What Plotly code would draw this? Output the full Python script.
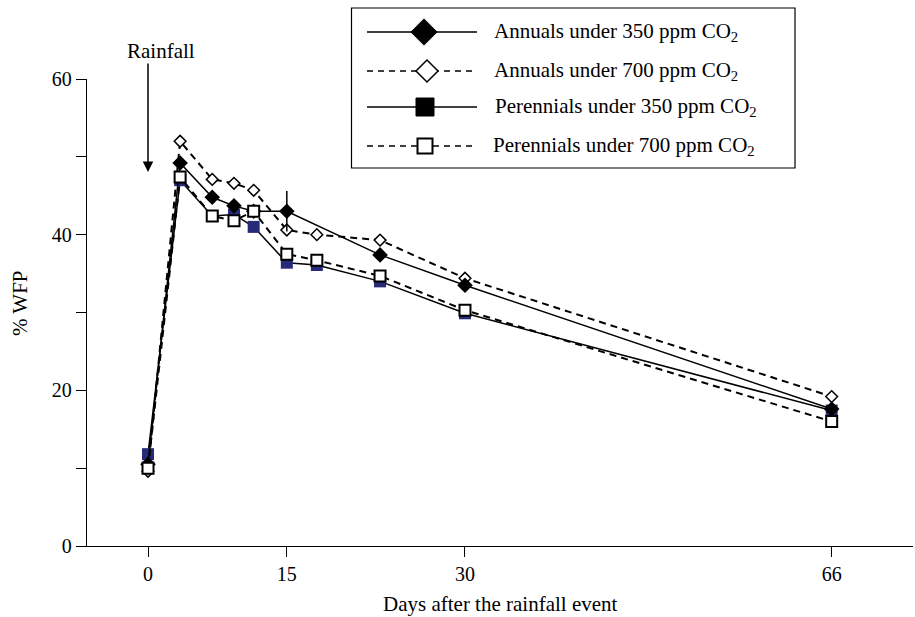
import plotly.graph_objects as go

# ---------------- data ----------------
# sampling positions along the x axis (days after the rainfall event, as drawn)
days = [0, 3.1, 6.2, 8.3, 10.2, 13.4, 16.3, 22.4, 30.6, 66]
annuals_350 = [10.5, 49.2, 44.8, 43.7, 43.0, 43.0, None, 37.4, 33.5, 17.6]
annuals_350_err = [0, 0, 0, 0, 0, 2.6, 0, 0, 0, 0]
annuals_700 = [9.6, 52.0, 47.1, 46.6, 45.7, 40.6, 40.0, 39.3, 34.4, 19.2]
perennials_350 = [11.8, 47.0, 42.4, 42.6, 41.0, 36.4, 36.1, 34.0, 29.9, 17.4]
perennials_700 = [10.0, 47.4, 42.4, 41.8, 43.0, 37.5, 36.7, 34.7, 30.3, 16.0]

x_tick_positions = [days[0], days[5], days[8], days[9]]
x_tick_labels = ["0", "15", "30", "66"]
y_tick_values = [0, 20, 40, 60]
y_tick_labels = ["0", "20", "40", "60"]
y_minor_ticks = [10, 30, 50]

series_names = [
    "Annuals under 350 ppm CO<sub>2</sub>",
    "Annuals under 700 ppm CO<sub>2</sub>",
    "Perennials under 350 ppm CO<sub>2</sub>",
    "Perennials under 700 ppm CO<sub>2</sub>",
]

FONT = "Liberation Serif, Times New Roman, serif"
NAVY = "#262a78"
W, H = 915, 617
L, R, T, B = 87, 2, 79, 71
PW, PH = W - L - R, H - T - B


def px(x):
    return (x - L) / PW


def py(y):
    return (H - B - y) / PH


fig = go.Figure()

fig.add_trace(go.Scatter(
    x=days, y=annuals_700, mode="lines+markers", name=series_names[1],
    line=dict(color="black", width=2, dash="7px,5px"),
    marker=dict(symbol="diamond", size=9, color="white",
                line=dict(color="black", width=1.5)),
    connectgaps=True, showlegend=False))

fig.add_trace(go.Scatter(
    x=days, y=perennials_350, mode="lines+markers", name=series_names[2],
    line=dict(color="black", width=1.5),
    marker=dict(symbol="square", size=12, color=NAVY, line=dict(width=0)),
    showlegend=False))

fig.add_trace(go.Scatter(
    x=days, y=annuals_350, mode="lines+markers", name=series_names[0],
    line=dict(color="black", width=1.5),
    marker=dict(symbol="diamond", size=12, color="black"),
    error_y=dict(type="data", array=annuals_350_err, visible=True,
                 color="black", thickness=1.5, width=0),
    connectgaps=True, showlegend=False))

fig.add_trace(go.Scatter(
    x=days, y=perennials_700, mode="lines+markers", name=series_names[3],
    line=dict(color="black", width=2, dash="7px,5px"),
    marker=dict(symbol="square", size=11, color="white",
                line=dict(color="black", width=2)),
    showlegend=False))

shapes = []
annotations = []

# legend box
shapes.append(dict(type="rect", xref="paper", yref="paper",
                   x0=px(351.5), x1=px(795), y0=py(8), y1=py(168),
                   line=dict(color="black", width=1.2), fillcolor="white",
                   layer="above"))

legend_rows = [32, 71, 107, 146]
legend_dash = ["solid", "6px,5px", "solid", "6px,5px"]
legend_marker_x = [424, 427, 425, 425]
legend_text_x = [492, 492, 493, 491]

for i, yy in enumerate(legend_rows):
    shapes.append(dict(type="line", xref="paper", yref="paper",
                       x0=px(367), x1=px(477), y0=py(yy), y1=py(yy),
                       line=dict(color="black", width=1.5, dash=legend_dash[i]),
                       layer="above"))
    mx = legend_marker_x[i]
    if i in (0, 1):
        w = 12.5 if i == 0 else 11
        path = (f"M{px(mx - w)},{py(yy)} L{px(mx)},{py(yy - w)} "
                f"L{px(mx + w)},{py(yy)} L{px(mx)},{py(yy + w)} Z")
        shapes.append(dict(type="path", xref="paper", yref="paper", path=path,
                           fillcolor="black" if i == 0 else "white",
                           line=dict(color="black", width=1.5), layer="above"))
    else:
        s = 9 if i == 2 else 7.5
        shapes.append(dict(type="rect", xref="paper", yref="paper",
                           x0=px(mx - s), x1=px(mx + s),
                           y0=py(yy + s), y1=py(yy - s),
                           fillcolor="black" if i == 2 else "white",
                           line=dict(color="black", width=2 if i == 3 else 1),
                           layer="above"))
    annotations.append(dict(xref="paper", yref="paper", x=px(legend_text_x[i]),
                            y=py(yy), xanchor="left", yanchor="middle",
                            text=series_names[i], showarrow=False,
                            font=dict(family=FONT, size=21, color="black")))

# Rainfall label and arrow
annotations.append(dict(xref="paper", yref="paper", x=px(161), y=py(51),
                        text="Rainfall", showarrow=False,
                        xanchor="center", yanchor="middle",
                        font=dict(family=FONT, size=21, color="black")))
annotations.append(dict(xref="x", yref="paper", x=days[0], y=py(172),
                        ax=0, ay=-110, text="", showarrow=True,
                        arrowhead=2, arrowsize=1.4, arrowwidth=1.5,
                        arrowcolor="black"))

# axis titles
annotations.append(dict(xref="paper", yref="paper", x=0.5, y=py(604),
                        text="Days after the rainfall event", showarrow=False,
                        xanchor="center", yanchor="middle",
                        font=dict(family=FONT, size=21, color="black")))
annotations.append(dict(xref="paper", yref="paper", x=px(20), y=py(303),
                        text="% WFP", showarrow=False, textangle=-90,
                        xanchor="center", yanchor="middle",
                        font=dict(family=FONT, size=21, color="black")))

fig.update_layout(
    width=W, height=H,
    margin=dict(l=L, r=R, t=T, b=B),
    paper_bgcolor="white", plot_bgcolor="white",
    font=dict(family=FONT, size=20, color="black"),
    shapes=shapes, annotations=annotations,
    showlegend=False,
)

fig.update_xaxes(
    range=[-5.89, 73.85], showgrid=False, zeroline=False,
    showline=True, linecolor="black", linewidth=1.3,
    ticks="outside", ticklen=10, tickwidth=1.3, tickcolor="black",
    tickvals=x_tick_positions, ticktext=x_tick_labels,
    tickfont=dict(family=FONT, size=20, color="black"),
)
fig.update_yaxes(
    range=[0, 60], showgrid=False, zeroline=False,
    showline=True, linecolor="black", linewidth=1.3,
    ticks="outside", ticklen=10, tickwidth=1.3, tickcolor="black",
    tickvals=y_tick_values, ticktext=y_tick_labels,
    minor=dict(tickvals=y_minor_ticks, ticks="outside", ticklen=10,
               tickwidth=1.3, tickcolor="black", showgrid=False),
    tickfont=dict(family=FONT, size=20, color="black"),
)

fig.write_html(
    "out.html",
    config={"displayModeBar": False},
    post_script="document.body.style.margin='0';document.body.style.overflow='hidden';",
)
